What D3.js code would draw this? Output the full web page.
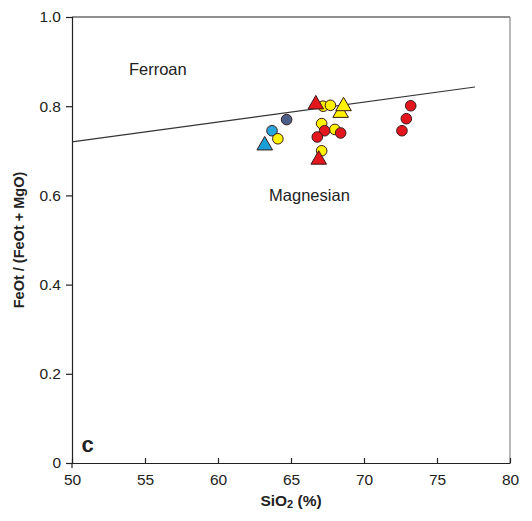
<!DOCTYPE html>
<html>
<head>
<meta charset="utf-8">
<script src="https://cdn.jsdelivr.net/npm/d3@7"></script>
<style>
  body { margin: 0; background: #fff; }
  svg { display: block; font-family: Arial, "Liberation Sans", sans-serif; }
</style>
</head>
<body>
<div id="chart"></div>
<script>
// symbol groups: [SiO2, FeOt/(FeOt+MgO)]
const redCircles = [[67.3, 0.745], [66.8, 0.731], [68.4, 0.740], [73.2, 0.801], [72.9, 0.772], [72.6, 0.745]];
const yellowCircles = [[67.2, 0.800], [67.7, 0.802], [64.1, 0.727], [67.1, 0.761], [68.0, 0.748], [67.1, 0.700]];
const lightBlueCircles = [[63.7, 0.745]];
const slateCircles = [[64.7, 0.770]];
const redTriangles = [[66.7, 0.804], [66.9, 0.680]];
const yellowTriangles = [[68.4, 0.785], [68.6, 0.800]];
const blueTriangles = [[63.2, 0.712]];
const boundary = [[50, 0.72], [77.6, 0.843]];

const xTicks = [50, 55, 60, 65, 70, 75, 80];
const yTicks = [0, 0.2, 0.4, 0.6, 0.8, 1.0];

const width = 532, height = 521;
const margin = { top: 17, right: 22, bottom: 58, left: 72 };

const svg = d3.select('#chart').append('svg')
  .attr('width', width)
  .attr('height', height);

const x = d3.scaleLinear().domain([50, 80]).range([margin.left, width - margin.right]);
const y = d3.scaleLinear().domain([0, 1]).range([height - margin.bottom, margin.top]);

// frame: top and right sides
svg.append('line')
  .attr('x1', x(50)).attr('x2', x(80)).attr('y1', y(1)).attr('y2', y(1))
  .attr('stroke', '#222').attr('stroke-width', 1.2);
svg.append('line')
  .attr('x1', x(80)).attr('x2', x(80)).attr('y1', y(1)).attr('y2', y(0))
  .attr('stroke', '#888').attr('stroke-width', 1.2);

// axes
const yAxis = svg.append('g')
  .attr('transform', `translate(${x(50)},0)`)
  .call(d3.axisLeft(y).tickValues(yTicks).tickSize(6).tickPadding(5)
    .tickFormat(d => d === 0 ? '0' : d3.format('.1f')(d)));
const xAxis = svg.append('g')
  .attr('transform', `translate(0,${y(0)})`)
  .call(d3.axisBottom(x).tickValues(xTicks).tickSizeInner(-5).tickSizeOuter(0).tickPadding(11));

[xAxis, yAxis].forEach(g => {
  g.select('.domain').attr('stroke', '#222').attr('stroke-width', 1.2);
  g.selectAll('.tick line').attr('stroke', '#222').attr('stroke-width', 1.2);
  g.selectAll('.tick text').attr('font-size', 15.5).attr('fill', '#222')
    .attr('font-family', 'Arial, "Liberation Sans", sans-serif');
});
// small extension of y axis below the x axis
svg.append('line')
  .attr('x1', x(50)).attr('x2', x(50)).attr('y1', y(0)).attr('y2', y(0) + 5)
  .attr('stroke', '#222').attr('stroke-width', 1.2);

// ferroan / magnesian boundary
svg.append('path')
  .datum(boundary)
  .attr('d', d3.line().x(d => x(d[0])).y(d => y(d[1])))
  .attr('fill', 'none')
  .attr('stroke', '#333')
  .attr('stroke-width', 1.1);

// field labels
svg.append('text').attr('x', x(53.9)).attr('y', y(0.87))
  .attr('font-size', 16.5).attr('fill', '#222').text('Ferroan');
svg.append('text').attr('x', x(63.5)).attr('y', y(0.588))
  .attr('font-size', 16.5).attr('fill', '#222').text('Magnesian');
svg.append('text').attr('x', x(50.65)).attr('y', y(0.025))
  .attr('font-size', 22).attr('font-weight', 'bold').attr('fill', '#222').text('c');

// axis titles
svg.append('text')
  .attr('x', (x(50) + x(80)) / 2).attr('y', 506)
  .attr('text-anchor', 'middle').attr('font-size', 15.5).attr('font-weight', 'bold').attr('fill', '#222')
  .html('SiO<tspan font-size="11" dy="2">2</tspan><tspan dy="-2"> (%)</tspan>');
svg.append('text')
  .attr('transform', `translate(24,${(y(0) + y(1)) / 2}) rotate(-90)`)
  .attr('text-anchor', 'middle').attr('font-size', 14.5).attr('font-weight', 'bold').attr('fill', '#222')
  .text('FeOt / (FeOt + MgO)');

// points
const circleGroups = [
  { data: slateCircles, fill: '#4b6088' },
  { data: lightBlueCircles, fill: '#2aa6df' },
  { data: yellowCircles, fill: '#fff200' },
  { data: redCircles, fill: '#e3161e' }
];
const triGroups = [
  { data: blueTriangles, fill: '#1a9fd9' },
  { data: yellowTriangles, fill: '#fff200' },
  { data: redTriangles, fill: '#e3161e' }
];

circleGroups.forEach(grp => {
  svg.append('g').selectAll('circle')
    .data(grp.data)
    .join('circle')
    .attr('cx', d => x(d[0]))
    .attr('cy', d => y(d[1]))
    .attr('r', 5.3)
    .attr('fill', grp.fill)
    .attr('stroke', '#3a1a1a')
    .attr('stroke-width', 1);
});

const tri = d3.symbol().type(d3.symbolTriangle).size(105);
triGroups.forEach(grp => {
  svg.append('g').selectAll('path')
    .data(grp.data)
    .join('path')
    .attr('d', tri)
    .attr('transform', d => `translate(${x(d[0])},${y(d[1])})`)
    .attr('fill', grp.fill)
    .attr('stroke', '#3a1a1a')
    .attr('stroke-width', 1);
});
</script>
</body>
</html>
